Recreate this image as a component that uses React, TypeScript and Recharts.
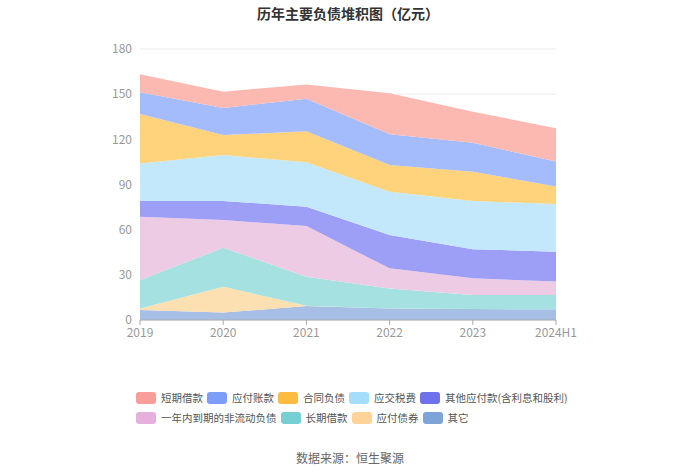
import React from "react";
import { AreaChart, Area, XAxis, YAxis, CartesianGrid } from "recharts";

const years = ["2019", "2020", "2021", "2022", "2023", "2024H1"];
const shortLoans = [12.0, 10.8, 9.5, 27.3, 20.6, 22.1];
const accountsPayable = [14.4, 17.9, 21.7, 20.3, 19.3, 16.6];
const contractLiab = [32.8, 13.3, 20.6, 17.8, 19.5, 11.6];
const taxesPayable = [25.0, 30.6, 29.4, 28.7, 32.0, 31.6];
const otherPayables = [10.4, 12.6, 12.9, 22.2, 19.3, 19.9];
const currentNonCurrent = [42.0, 18.4, 33.6, 13.3, 11.1, 8.9];
const longLoans = [18.9, 25.9, 19.3, 13.3, 9.3, 9.5];
const bonds = [1.1, 17.2, 0.2, 0, 0, 0];
const others = [6.6, 4.9, 9.3, 7.7, 7.3, 7.1];
const yTicks = [0, 30, 60, 90, 120, 150, 180];

const seriesNames = [
  "短期借款",
  "应付账款",
  "合同负债",
  "应交税费",
  "其他应付款(含利息和股利)",
  "一年内到期的非流动负债",
  "长期借款",
  "应付债券",
  "其它",
];
const seriesValues = [
  shortLoans,
  accountsPayable,
  contractLiab,
  taxesPayable,
  otherPayables,
  currentNonCurrent,
  longLoans,
  bonds,
  others,
];
const legendColors = [
  "#f89e98",
  "#7d9ef8",
  "#fdbb3f",
  "#a4dcfb",
  "#6f70ec",
  "#e6b0dc",
  "#76cfd0",
  "#fdd397",
  "#7ea3d9",
];
const fillColors = [
  "#fbb9b1",
  "#a4bbfc",
  "#fed37c",
  "#c3e8fb",
  "#9d9ef6",
  "#eecbe5",
  "#a5e1e1",
  "#fde0b1",
  "#a8bfe5",
];

const data = years.map((y, i) => {
  const row: Record<string, string | number> = { year: y };
  seriesNames.forEach((n, k) => {
    row["s" + k] = seriesValues[k][i];
  });
  return row;
});

const font = "'Noto Sans CJK SC', 'Noto Sans', sans-serif";

export default function App() {
  const order = [8, 7, 6, 5, 4, 3, 2, 1, 0];
  return (
    <div
      style={{
        position: "absolute",
        left: 0,
        top: 0,
        width: 700,
        height: 474,
        background: "#fff",
        fontFamily: font,
      }}
    >
      <div
        style={{
          position: "absolute",
          left: 0,
          top: 2,
          width: 696,
          textAlign: "center",
          fontSize: 14,
          fontWeight: "bold",
          color: "#333",
          lineHeight: "22px",
        }}
      >
        历年主要负债堆积图（亿元）
      </div>
      <div style={{ position: "absolute", left: 0, top: 0 }}>
        <AreaChart
          width={700}
          height={474}
          data={data}
          margin={{ top: 49, right: 144, bottom: 124, left: 0 }}
        >
          <CartesianGrid vertical={false} stroke="#ececec" />
          <XAxis
            dataKey="year"
            height={30}
            tick={{ fill: "#999", fontSize: 12, fontFamily: font }}
            axisLine={{ stroke: "#aaa" }}
            tickLine={{ stroke: "#aaa" }}
            tickSize={5}
            tickMargin={3}
            interval={0}
          />
          <YAxis
            width={140}
            domain={[0, 180]}
            ticks={yTicks}
            axisLine={false}
            tickLine={false}
            tick={{ fill: "#999", fontSize: 12, fontFamily: font }}
          />
          {order.map((k) => (
            <Area
              key={k}
              type="linear"
              dataKey={"s" + k}
              name={seriesNames[k]}
              stackId="a"
              stroke="none"
              fill={fillColors[k]}
              fillOpacity={1}
              isAnimationActive={false}
              dot={false}
              activeDot={false}
            />
          ))}
        </AreaChart>
      </div>
      <div
        style={{
          position: "absolute",
          left: 136,
          top: 391,
          width: 450,
          display: "flex",
          flexWrap: "wrap",
          columnGap: 4,
          rowGap: 6,
          fontSize: 10.5,
          color: "#555",
          lineHeight: "14px",
        }}
      >
        {seriesNames.map((n, k) => (
          <div key={n} style={{ display: "flex", alignItems: "center" }}>
            <span
              style={{
                display: "inline-block",
                width: 20,
                height: 12,
                borderRadius: 3,
                background: legendColors[k],
                marginRight: 5,
              }}
            />
            <span>{n}</span>
          </div>
        ))}
      </div>
      <div
        style={{
          position: "absolute",
          left: 0,
          top: 449,
          width: 700,
          textAlign: "center",
          fontSize: 12,
          color: "#666",
          lineHeight: "18px",
        }}
      >
        数据来源：恒生聚源
      </div>
    </div>
  );
}
